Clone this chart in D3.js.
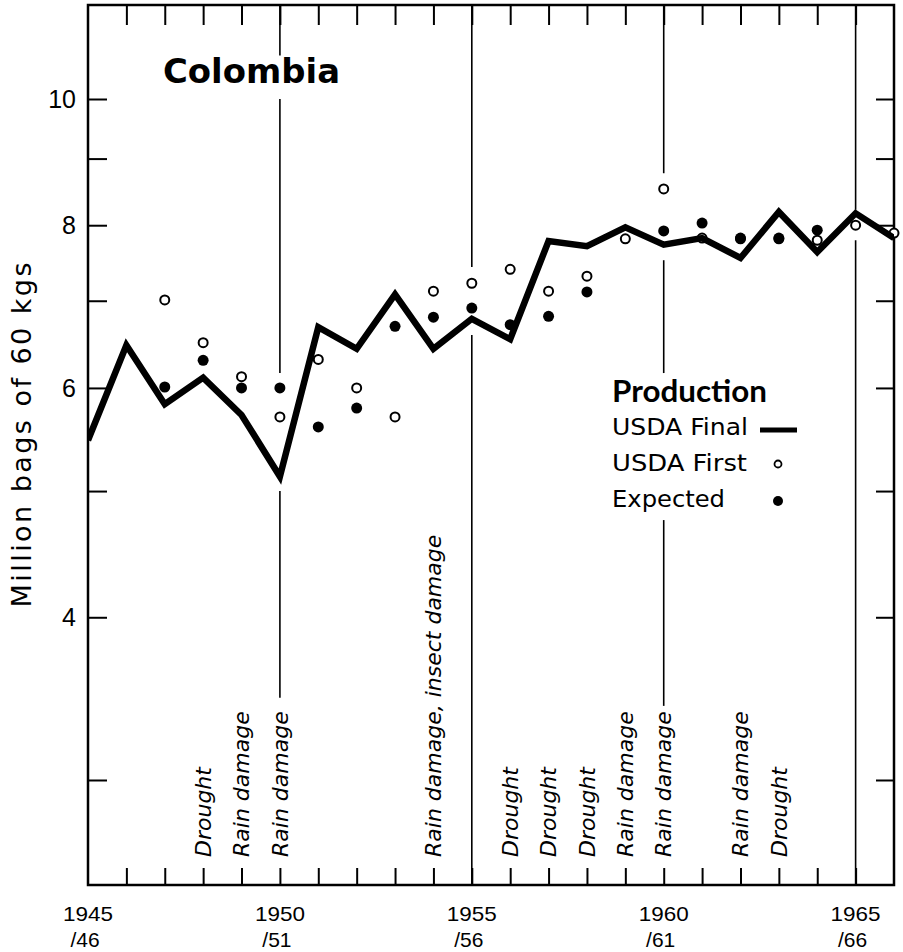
<!DOCTYPE html>
<html><head><meta charset="utf-8">
<script src="https://cdn.jsdelivr.net/npm/d3@7"></script>
<style>body{margin:0;background:#fff}</style>
</head><body><svg id="c" width="903" height="952"></svg>
<script>
// ---- data ----
const years = [1945,1946,1947,1948,1949,1950,1951,1952,1953,1954,1955,1956,1957,1958,1959,1960,1961,1962,1963,1964,1965,1966];
const usdaFinal = [5.47,6.47,5.83,6.11,5.72,5.13,6.68,6.43,7.08,6.43,6.78,6.54,7.78,7.71,7.97,7.73,7.82,7.55,8.19,7.63,8.17,7.82];
const firstYears = [1947,1948,1949,1950,1951,1952,1953,1954,1955,1956,1957,1958,1959,1960,1961,1962,1963,1964,1965,1966];
const usdaFirst = [7.01,6.50,6.12,5.70,6.31,6.00,5.70,7.12,7.22,7.40,7.12,7.31,7.81,8.53,7.82,7.81,7.81,7.79,8.00,7.89];
const expectedYears = [1947,1948,1949,1950,1951,1952,1953,1954,1955,1956,1957,1958,1960,1961,1962,1963,1964];
const expected = [6.01,6.30,6.00,6.00,5.60,5.79,6.69,6.80,6.91,6.71,6.81,7.11,7.92,8.03,7.82,7.82,7.93];
const yTickValues = [3,4,5,6,7,8,9,10];
const yTickLabels = [4,6,8,10];
const xTickValues = [1946,1947,1948,1949,1950,1951,1952,1953,1954,1955,1956,1957,1958,1959,1960,1961,1962,1963,1964,1965];
const xLabelYears = [1945,1950,1955,1960,1965];
const xLabelTop = ["1945","1950","1955","1960","1965"];
const xLabelBottom = ["/46","/51","/56","/61","/66"];
const refLineYears = [1950,1955,1960,1965];
const refLineSegments = [
  [[11.8,10.8],[10.0,6.16],[5.0,3.47]],
  [[11.8,7.43],[6.59,2.49]],
  [[11.8,8.77],[7.52,6.16],[4.75,3.42]],
  [[11.8,8.22],[7.79,2.49]]
];
const annoYears = [1948,1949,1950,1954,1956,1957,1958,1959,1960,1962,1963];
const annoTexts = ["Drought","Rain damage","Rain damage","Rain damage,  insect damage","Drought","Drought","Drought","Rain damage","Rain damage","Rain damage","Drought"];
const titleText = "Colombia";
const yAxisTitle = "Million bags of 60 kgs";
const legendTitle = "Production";
const legendLabels = ["USDA Final","USDA First","Expected"];

// ---- layout ----
const L = 88, R = 894, T = 5, B = 885;
const svg = d3.select("#c");
const x = d3.scaleLinear().domain([1945,1966]).range([L,R]);
const y = d3.scaleLog().domain([2.4917,11.808]).range([B,T]);
const dv = "'DejaVu Sans', sans-serif";
const lib = "'Liberation Sans', Arial, sans-serif";

svg.append("defs").append("clipPath").attr("id","plot")
  .append("rect").attr("x",L).attr("y",T).attr("width",R-L).attr("height",B-T);

// ticks (inward)
function styleAxis(g){ g.select(".domain").remove(); g.selectAll("line").attr("stroke","#000").attr("stroke-width",2); g.selectAll("text").remove(); }
svg.append("g").attr("transform",`translate(0,${B})`).call(d3.axisTop(x).tickValues(xTickValues).tickSize(17).tickFormat("")).call(styleAxis);
svg.append("g").attr("transform",`translate(0,${T})`).call(d3.axisBottom(x).tickValues(xTickValues).tickSize(20).tickFormat("")).call(styleAxis);
svg.append("g").attr("transform",`translate(${L},0)`).call(d3.axisRight(y).tickValues(yTickValues).tickSize(19).tickFormat("")).call(styleAxis);
svg.append("g").attr("transform",`translate(${R},0)`).call(d3.axisLeft(y).tickValues(yTickValues).tickSize(18).tickFormat("")).call(styleAxis);

// frame
svg.append("rect").attr("x",L).attr("y",T).attr("width",R-L).attr("height",B-T)
  .attr("fill","none").attr("stroke","#000").attr("stroke-width",2.5);

// reference vertical lines with gaps
refLineYears.forEach((yr,i)=>{
  refLineSegments[i].forEach(s=>{
    svg.append("line").attr("x1",x(yr)).attr("x2",x(yr))
      .attr("y1",y(s[0])).attr("y2",y(s[1]))
      .attr("stroke","#000").attr("stroke-width",1.6);
  });
});

// y tick labels
svg.append("g").selectAll("text").data(yTickLabels).join("text")
  .attr("x",76).attr("y",d=>y(d)).attr("dy","0.36em")
  .attr("text-anchor","end").attr("font-family",lib)
  .attr("font-size",25).text(d=>d);

// x labels (two lines)
svg.append("g").selectAll("text").data(xLabelYears).join("text")
  .attr("x",d=>x(d)).attr("y",921).attr("text-anchor","middle")
  .attr("font-family",lib).attr("font-size",21)
  .attr("textLength",50).attr("lengthAdjust","spacingAndGlyphs")
  .text((d,i)=>xLabelTop[i]);
svg.append("g").selectAll("text").data(xLabelYears).join("text")
  .attr("x",d=>x(d)-3).attr("y",947).attr("text-anchor","middle")
  .attr("font-family",lib).attr("font-size",21)
  .text((d,i)=>xLabelBottom[i]);

// y axis title
svg.append("text").attr("transform","translate(22,435) rotate(-90)")
  .attr("text-anchor","middle").attr("dy","0.35em")
  .attr("font-family",dv).attr("font-size",27)
  .attr("textLength",345).attr("lengthAdjust","spacing").text(yAxisTitle);

// title
svg.append("text").attr("x",163).attr("y",83)
  .attr("font-family",dv).attr("font-weight",700).attr("font-size",34)
  .attr("textLength",177).attr("lengthAdjust","spacingAndGlyphs").text(titleText);

// annotations
svg.append("g").selectAll("text").data(annoYears).join("text")
  .attr("transform",d=>`translate(${x(d)},857) rotate(-90)`)
  .attr("dy","0.35em").attr("text-anchor","start")
  .attr("font-family",dv).attr("font-style","italic").attr("font-size",22)
  .text((d,i)=>annoTexts[i]);

// markers
const marks = svg.append("g");
marks.selectAll("circle.first").data(firstYears).join("circle").attr("class","first")
  .attr("cx",d=>x(d)).attr("cy",(d,i)=>y(usdaFirst[i])).attr("r",4.5)
  .attr("fill","#fff").attr("stroke","#000").attr("stroke-width",2);
marks.selectAll("circle.exp").data(expectedYears).join("circle").attr("class","exp")
  .attr("cx",d=>x(d)).attr("cy",(d,i)=>y(expected[i])).attr("r",5.5)
  .attr("fill","#000");

// final line
const plot = svg.append("g").attr("clip-path","url(#plot)");
plot.append("path").datum(years.map((yr,i)=>[yr,usdaFinal[i]]))
  .attr("d",d3.line().x(d=>x(d[0])).y(d=>y(d[1])))
  .attr("fill","none").attr("stroke","#000").attr("stroke-width",6.5)
  .attr("stroke-linejoin","miter").attr("stroke-miterlimit",10);

// legend
const lg = svg.append("g");
lg.append("text").attr("x",612).attr("y",402).attr("font-family","Lato, sans-serif")
  .attr("font-weight",700).attr("font-size",31)
  .attr("textLength",155).attr("lengthAdjust","spacingAndGlyphs").text(legendTitle);
const rows = [435,471,507];
const rowW = [136,135,113];
lg.selectAll("text.item").data(legendLabels).join("text").attr("class","item")
  .attr("x",612).attr("y",(d,i)=>rows[i]).attr("font-family",dv).attr("font-size",23)
  .attr("textLength",(d,i)=>rowW[i]).attr("lengthAdjust","spacingAndGlyphs").text(d=>d);
lg.append("line").attr("x1",760).attr("x2",797).attr("y1",430).attr("y2",430)
  .attr("stroke","#000").attr("stroke-width",5);
lg.append("circle").attr("cx",778).attr("cy",464).attr("r",3.5)
  .attr("fill","#fff").attr("stroke","#000").attr("stroke-width",1.8);
lg.append("circle").attr("cx",778).attr("cy",501).attr("r",5).attr("fill","#000");
</script>
</body></html>
